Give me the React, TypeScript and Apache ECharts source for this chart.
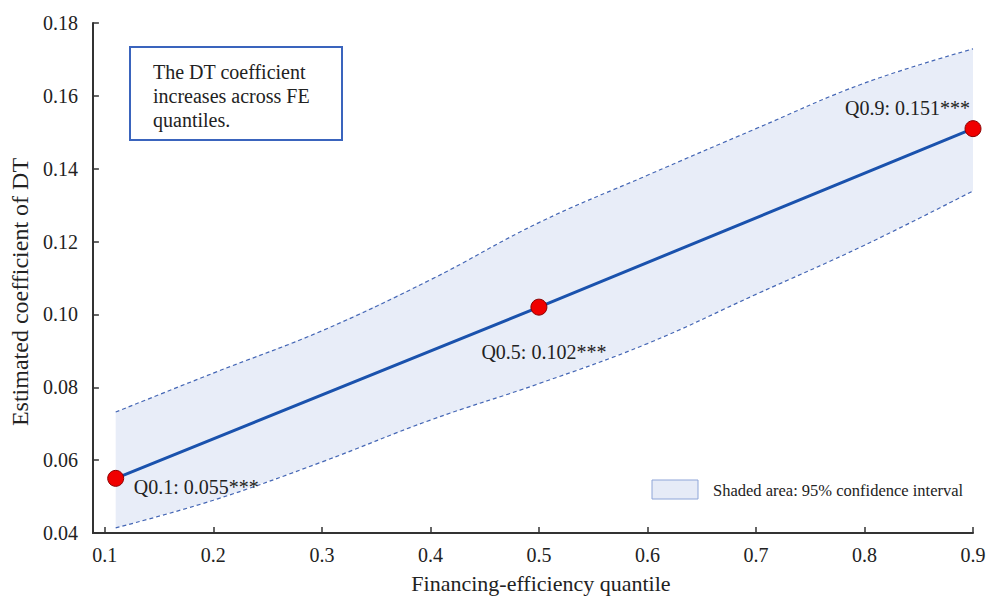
import React, { useEffect, useRef } from "react";
import * as echarts from "echarts";

// Quantile estimates (x position, coefficient)
const pointX = [0.11, 0.5, 0.9];
const pointY = [0.055, 0.102, 0.151];
const pointLabels = ["Q0.1: 0.055***", "Q0.5: 0.102***", "Q0.9: 0.151***"];

// 95% confidence band
const bandX = [0.11, 0.2, 0.3, 0.4, 0.5, 0.6, 0.7, 0.8, 0.9];
const bandUpper = [0.0732, 0.0839, 0.0955, 0.1095, 0.1252, 0.1382, 0.151, 0.1635, 0.1729];
const bandLower = [0.0414, 0.049, 0.0595, 0.071, 0.081, 0.092, 0.1055, 0.119, 0.1339];

const xTicks = [0.1, 0.2, 0.3, 0.4, 0.5, 0.6, 0.7, 0.8, 0.9];

const FONT = "'Liberation Serif', 'Times New Roman', serif";

export default function App() {
  const ref = useRef<HTMLDivElement>(null);
  useEffect(() => {
    if (!ref.current) return;
    const chart = echarts.init(ref.current, undefined, { renderer: "svg" });
    const labelCfg = [
      { align: "left", offset: [18, 9] },
      { align: "center", offset: [5, 45] },
      { align: "right", offset: [-3, -21] },
    ];
    chart.setOption({
      animation: false,
      backgroundColor: "#ffffff",
      grid: { left: 92, right: 16, top: 23, bottom: 66 },
      xAxis: {
        type: "value",
        min: 0.089,
        max: 0.9,
        name: "Financing-efficiency quantile",
        nameLocation: "middle",
        nameGap: 39,
        nameTextStyle: { fontFamily: FONT, fontSize: 22, color: "#222", padding: [0, 0, 0, 16] },
        axisLine: { show: true, lineStyle: { color: "#333", width: 2 } },
        axisTick: { show: true, inside: true, length: 6, customValues: xTicks, lineStyle: { color: "#333", width: 1.5 } },
        axisLabel: {
          customValues: xTicks,
          fontFamily: FONT,
          fontSize: 20,
          color: "#222",
          margin: 12,
          formatter: (v: number) => v.toFixed(1),
        },
        splitLine: { show: false },
      },
      yAxis: {
        type: "value",
        min: 0.04,
        max: 0.18,
        interval: 0.02,
        name: "Estimated coefficient of DT",
        nameLocation: "middle",
        nameGap: 57,
        nameTextStyle: { fontFamily: FONT, fontSize: 24, color: "#222", padding: [0, 28, 0, 0] },
        axisLine: { show: true, lineStyle: { color: "#333", width: 2 } },
        axisTick: { show: true, inside: true, length: 6, lineStyle: { color: "#333", width: 1.5 } },
        axisLabel: {
          fontFamily: FONT,
          fontSize: 20,
          color: "#222",
          margin: 15,
          formatter: (v: number) => v.toFixed(2),
        },
        splitLine: { show: false },
      },
      series: [
        {
          type: "custom",
          name: "band",
          silent: true,
          z: 1,
          data: [0],
          renderItem: (params: any, api: any) => {
            const pts: number[][] = [];
            for (let i = 0; i < bandX.length; i++) pts.push(api.coord([bandX[i], bandUpper[i]]));
            for (let i = bandX.length - 1; i >= 0; i--) pts.push(api.coord([bandX[i], bandLower[i]]));
            return {
              type: "polygon",
              shape: { points: pts },
              style: { fill: "#e8edf8", stroke: "none" },
            };
          },
        },
        {
          type: "line",
          name: "upper",
          z: 2,
          symbol: "none",
          smooth: 0.4,
          data: bandX.map((x, i) => [x, bandUpper[i]]),
          lineStyle: { color: "#4466b5", width: 1.2, type: [4, 3] },
        },
        {
          type: "line",
          name: "lower",
          z: 2,
          symbol: "none",
          smooth: 0.4,
          data: bandX.map((x, i) => [x, bandLower[i]]),
          lineStyle: { color: "#4466b5", width: 1.2, type: [4, 3] },
        },
        {
          type: "line",
          name: "estimate",
          z: 3,
          symbol: "circle",
          symbolSize: 16,
          lineStyle: { color: "#1a52ad", width: 3 },
          itemStyle: { color: "#f00000", borderColor: "#8a0000", borderWidth: 1 },
          data: pointX.map((x, i) => ({
            value: [x, pointY[i]],
            label: {
              show: true,
              position: "inside",
              formatter: pointLabels[i],
              align: labelCfg[i].align,
              verticalAlign: "middle",
              offset: labelCfg[i].offset,
              fontFamily: FONT,
              fontSize: 20,
              color: "#222",
            },
          })),
        },
      ],
      graphic: [
        {
          type: "rect",
          shape: { x: 130, y: 47, width: 212, height: 93 },
          style: { fill: "#ffffff", stroke: "#3a64bd", lineWidth: 2 },
          z: 10,
        },
        {
          type: "text",
          x: 153,
          y: 60,
          z: 11,
          style: {
            text: "The DT coefficient\nincreases across FE\nquantiles.",
            font: `20px ${FONT}`,
            fill: "#222",
            lineHeight: 24,
          },
        },
        {
          type: "rect",
          shape: { x: 652, y: 480, width: 46, height: 19 },
          style: { fill: "#e6ebf7", stroke: "#8ea5d8", lineWidth: 1 },
          z: 10,
        },
        {
          type: "text",
          x: 713,
          y: 490,
          z: 11,
          style: {
            text: "Shaded area: 95% confidence interval",
            font: `16.5px ${FONT}`,
            fill: "#222",
            verticalAlign: "middle",
          },
        },
      ],
    });
    return () => chart.dispose();
  }, []);
  return <div ref={ref} style={{ width: 989, height: 599, position: "absolute", left: 0, top: 0 }} />;
}
